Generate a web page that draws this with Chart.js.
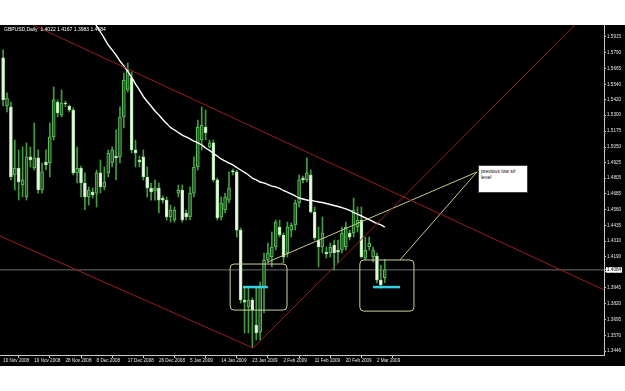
<!DOCTYPE html>
<html>
<head>
<meta charset="utf-8">
<script src="https://cdn.jsdelivr.net/npm/chart.js@4.4.1/dist/chart.umd.min.js"></script>
<style>
html,body{margin:0;padding:0;background:#fff;width:625px;height:391px;overflow:hidden;font-family:"Liberation Sans",Arial,sans-serif;}
#panel{position:absolute;left:0;top:25px;width:625px;height:341px;background:#000;}
#header{position:absolute;left:4px;top:1px;color:#fff;font-size:5px;line-height:6px;white-space:pre;}
#note{position:absolute;left:478px;top:140px;width:50px;height:28px;box-sizing:border-box;background:#fff;border:1px solid #404040;color:#000;font-size:5px;line-height:6px;padding:2px 2px;}
</style>
</head>
<body>
<div id="panel">
  <canvas id="chart" width="625" height="341"></canvas>
  <div id="header">GBPUSD,Daily  1.4022 1.4167 1.3983 1.4084</div>
  <div id="note">previous low s/r<br>level</div>
</div>
<script>
// daily bars, 10 Nov 2008 .. 4 Mar 2009 (broker shows sunday bars too)
const barOpen = [1.5750,1.5372,1.5365,1.4830,1.4885,1.4751,1.4657,1.4972,1.4885,1.4964,
  1.4712,1.4932,1.4924,1.5129,1.5404,1.5302,1.5396,1.5372,1.5341,1.4846,
  1.4885,1.4767,1.4657,1.4696,1.4688,1.4846,1.4736,1.4846,1.4924,1.4979,
  1.4972,1.5286,1.5498,1.5593,1.5027,1.4948,1.4972,1.4814,1.4728,1.4704,
  1.4728,1.4649,1.4633,1.4500,1.4476,1.4688,1.4712,1.4531,1.4500,1.4688,
  1.4893,1.5105,1.5207,1.5050,1.5082,1.4791,1.4500,1.4555,1.4633,1.4861,
  1.4854,1.4397,1.3847,1.3792,1.3847,1.3650,1.3595,1.3949,1.4162,1.4185,
  1.4264,1.4421,1.4358,1.4217,1.4397,1.4437,1.4610,1.4806,1.4791,1.4830,
  1.4539,1.4319,1.4264,1.4224,1.4217,1.4280,1.4240,1.4240,1.4264,1.4374,
  1.4374,1.4421,1.4476,1.4177,1.4264,1.4185,1.4193,1.4004,1.4022];
const barHigh = [1.5813,1.5475,1.5404,1.5105,1.5027,1.5050,1.5082,1.5050,1.5239,1.5027,
  1.4924,1.5027,1.5239,1.5522,1.5420,1.5498,1.5412,1.5380,1.5357,1.5050,
  1.4901,1.4846,1.4736,1.4728,1.4869,1.4948,1.4893,1.5027,1.5050,1.5184,
  1.5365,1.5632,1.5711,1.5640,1.5105,1.4979,1.5027,1.4893,1.4767,1.4791,
  1.4767,1.4665,1.4657,1.4594,1.4578,1.4751,1.4751,1.4555,1.4736,1.4972,
  1.5262,1.5365,1.5341,1.5105,1.5105,1.4806,1.4657,1.4688,1.4854,1.4877,
  1.4869,1.4413,1.3949,1.3949,1.3863,1.3949,1.3989,1.4217,1.4295,1.4382,
  1.4476,1.4476,1.4374,1.4460,1.4453,1.4633,1.4830,1.4822,1.4964,1.4869,
  1.4578,1.4421,1.4500,1.4264,1.4295,1.4319,1.4319,1.4421,1.4460,1.4397,
  1.4649,1.4578,1.4578,1.4342,1.4342,1.4264,1.4217,1.4122,1.4167];
const barLow = [1.5372,1.5325,1.4791,1.4712,1.4633,1.4657,1.4633,1.4893,1.4869,1.4688,
  1.4688,1.4869,1.4814,1.5105,1.5286,1.5286,1.5365,1.5325,1.4830,1.4767,
  1.4657,1.4555,1.4594,1.4649,1.4578,1.4688,1.4712,1.4814,1.4893,1.4791,
  1.4924,1.5200,1.5483,1.5003,1.4893,1.4893,1.4791,1.4657,1.4633,1.4633,
  1.4531,1.4610,1.4476,1.4460,1.4460,1.4657,1.4460,1.4476,1.4476,1.4657,
  1.4869,1.5027,1.5105,1.5042,1.4775,1.4476,1.4476,1.4531,1.4610,1.4830,
  1.4342,1.3824,1.3588,1.3588,1.3470,1.3533,1.3533,1.3745,1.4138,1.4107,
  1.4240,1.4342,1.4138,1.4185,1.4342,1.4397,1.4578,1.4767,1.4775,1.4531,
  1.4319,1.4107,1.4217,1.4177,1.4185,1.4083,1.4138,1.4217,1.4240,1.4319,
  1.4342,1.4382,1.4177,1.4162,1.4240,1.4146,1.3981,1.3941,1.3983];
const barClose = [1.5420,1.5435,1.4814,1.4885,1.4775,1.4791,1.4972,1.4948,1.4964,1.4712,
  1.4854,1.4909,1.5129,1.5420,1.5317,1.5396,1.5388,1.5341,1.4846,1.4885,
  1.4767,1.4657,1.4712,1.4673,1.4846,1.4736,1.4775,1.5003,1.5027,1.4964,
  1.5286,1.5577,1.5656,1.5027,1.5003,1.4932,1.4814,1.4728,1.4696,1.4728,
  1.4633,1.4633,1.4500,1.4555,1.4555,1.4712,1.4476,1.4500,1.4688,1.4893,
  1.5207,1.5223,1.5160,1.5082,1.4791,1.4492,1.4610,1.4657,1.4728,1.4854,
  1.4397,1.3847,1.3831,1.3847,1.3768,1.3588,1.3949,1.4162,1.4217,1.4264,
  1.4460,1.4358,1.4185,1.4421,1.4437,1.4610,1.4791,1.4791,1.4846,1.4539,
  1.4335,1.4264,1.4374,1.4209,1.4264,1.4217,1.4224,1.4374,1.4421,1.4342,
  1.4555,1.4476,1.4185,1.4240,1.4295,1.4240,1.4004,1.3965,1.4084];

// moving average (white curve), first value sits on bar 22
const maFirstBar = 22;
const maValues = [1.6104,1.6053,1.6001,1.5954,1.5903,1.5852,1.5813,1.5773,1.5726,1.5687,
  1.5644,1.5597,1.5545,1.5498,1.5447,1.5408,1.5372,1.5333,1.5302,1.5266,
  1.5235,1.5203,1.5184,1.5164,1.5144,1.5129,1.5113,1.5097,1.5082,1.5066,
  1.5042,1.5023,1.4999,1.4979,1.4956,1.4940,1.4924,1.4909,1.4889,1.4869,
  1.4850,1.4830,1.4806,1.4791,1.4775,1.4767,1.4755,1.4743,1.4736,1.4724,
  1.4708,1.4696,1.4681,1.4665,1.4649,1.4641,1.4633,1.4629,1.4625,1.4618,
  1.4614,1.4606,1.4598,1.4590,1.4582,1.4574,1.4563,1.4551,1.4535,1.4523,
  1.4508,1.4492,1.4480,1.4464,1.4449,1.4437,1.4421];

// drawn objects: [bar, price] end points
const channelUpper = [[7.7, 1.6009], [154.3, 1.3926]];
const channelLower = [[-0.8, 1.4350], [64.2, 1.3470]];
const supportRise = [[64.2, 1.3470], [146.8, 1.6009]];
const noteLineA = [[68.0, 1.4146], [121.7, 1.4854]];
const noteLineB = [[101.9, 1.4162], [121.7, 1.4854]];
const lowMarkA = [[61.6, 1.3949], [68.0, 1.3949]];
const lowMarkB = [[95.0, 1.3949], [101.9, 1.3949]];
const bidPrice = 1.4084;

// rounded boxes round the two lows
const zoneFrom = [58.3, 91.6];
const zoneTo = [72.9, 105.5];
const zoneTop = [1.4130, 1.4162];
const zoneBottom = [1.3768, 1.3760];

const tickBars = [0, 8, 16, 24, 32, 40, 48, 56, 64, 72, 80, 88, 96];
const tickDates = ['10 Nov 2008','19 Nov 2008','28 Nov 2008','8 Dec 2008','17 Dec 2008','26 Dec 2008',
  '5 Jan 2009','14 Jan 2009','23 Jan 2009','2 Feb 2009','11 Feb 2009','20 Feb 2009','2 Mar 2009'];
const priceTicks = [1.5915,1.5790,1.5665,1.5540,1.5420,1.5300,1.5175,1.5050,1.4925,1.4805,1.4685,
  1.4560,1.4435,1.4310,1.4190,1.4070,1.3945,1.3820,1.3695,1.3570,1.3446,1.4084];

const xMin = -0.8, xMax = 154.3;
const font = {family: '"Liberation Sans", Arial, sans-serif', size: 4.6};

const isBull = i => barClose[i] >= barOpen[i];

function seg(pts, color, width, order){
  return {type:'line', data: pts.map(p=>({x:p[0], y:p[1]})), borderColor: color, borderWidth: width,
    pointRadius: 0, tension: 0, order: order || 0};
}

const zones = {
  id: 'zones',
  afterDatasetsDraw(chart){
    const {ctx, scales:{x, y}} = chart;
    ctx.save();
    ctx.strokeStyle = '#cfcf98';
    ctx.lineWidth = 1;
    zoneFrom.forEach((f, k)=>{
      const x0 = x.getPixelForValue(f), x1 = x.getPixelForValue(zoneTo[k]);
      const y0 = y.getPixelForValue(zoneTop[k]), y1 = y.getPixelForValue(zoneBottom[k]);
      ctx.beginPath();
      ctx.roundRect(x0, y0, x1 - x0, y1 - y0, 4);
      ctx.stroke();
    });
    ctx.restore();
  }
};

new Chart(document.getElementById('chart'), {
  type: 'bar',
  data: {
    datasets: [
      seg(channelUpper, '#9a1e1e', 1),
      seg(channelLower, '#9a1e1e', 1),
      seg(supportRise, '#9a1e1e', 1),
      seg(noteLineA, '#c8c88c', 1),
      seg(noteLineB, '#c8c88c', 1),
      seg(lowMarkA, '#2ed3e6', 2.5),
      seg(lowMarkB, '#2ed3e6', 2.5),
      {type:'line', data: maValues.map((v,k)=>({x: maFirstBar + k, y: v})), borderColor:'#ffffff',
        borderWidth: 1.4, pointRadius: 0, tension: 0.2, order: 0},
      {type:'bar', data: barOpen.map((o,i)=>({x:i, y:[o, barClose[i]]})),
        backgroundColor: c => isBull(c.dataIndex) ? '#1d5a1d' : '#eefbe8',
        borderColor: c => isBull(c.dataIndex) ? '#5cc05c' : '#a8e4a0',
        borderWidth: 1, borderSkipped: false, barThickness: 3, minBarLength: 1, grouped: false, order: 1},
      {type:'bar', data: barOpen.map((o,i)=>({x:i, y:[barLow[i], barHigh[i]]})),
        backgroundColor: '#3f9f3f', barThickness: 1, grouped: false, order: 2},
      seg([[xMin, bidPrice], [xMax, bidPrice]], '#6e6e6e', 1, 3)
    ]
  },
  options: {
    responsive: false,
    devicePixelRatio: 1,
    animation: false,
    layout: {padding: 0},
    plugins: {legend:{display:false}, tooltip:{enabled:false}},
    scales: {
      x: {
        type: 'linear', min: xMin, max: xMax, offset: false,
        afterBuildTicks: s => { s.ticks = tickBars.map(v=>({value:v})); },
        afterFit: s => { s.height = 11; s.paddingLeft = 0; s.paddingRight = 0; },
        grid: {drawOnChartArea:false, tickLength:3, color:'#c8c8c8'},
        border: {color:'#c8c8c8'},
        ticks: {autoSkip:false, maxRotation:0, align:'start', padding:0, color:'#e6e6e6', font,
          callback: (v, i) => tickDates[i]}
      },
      y: {
        position: 'right', min: 1.3415, max: 1.6009,
        afterBuildTicks: s => { s.ticks = priceTicks.map(v=>({value:v})); },
        afterFit: s => { s.width = 21; s.paddingTop = 0; s.paddingBottom = 0; },
        grid: {drawOnChartArea:false, tickLength:2, color:'#c8c8c8'},
        border: {color:'#c8c8c8'},
        ticks: {autoSkip:false, padding:1, font,
          color: c => c.tick && c.tick.value === bidPrice ? '#000' : '#e6e6e6',
          showLabelBackdrop: true,
          backdropColor: c => c.tick && c.tick.value === bidPrice ? '#ffffff' : 'rgba(0,0,0,0)',
          backdropPadding: {top:0, bottom:0, left:1, right:1},
          callback: v => v.toFixed(4)}
      }
    }
  },
  plugins: [zones]
});
</script>
</body>
</html>
